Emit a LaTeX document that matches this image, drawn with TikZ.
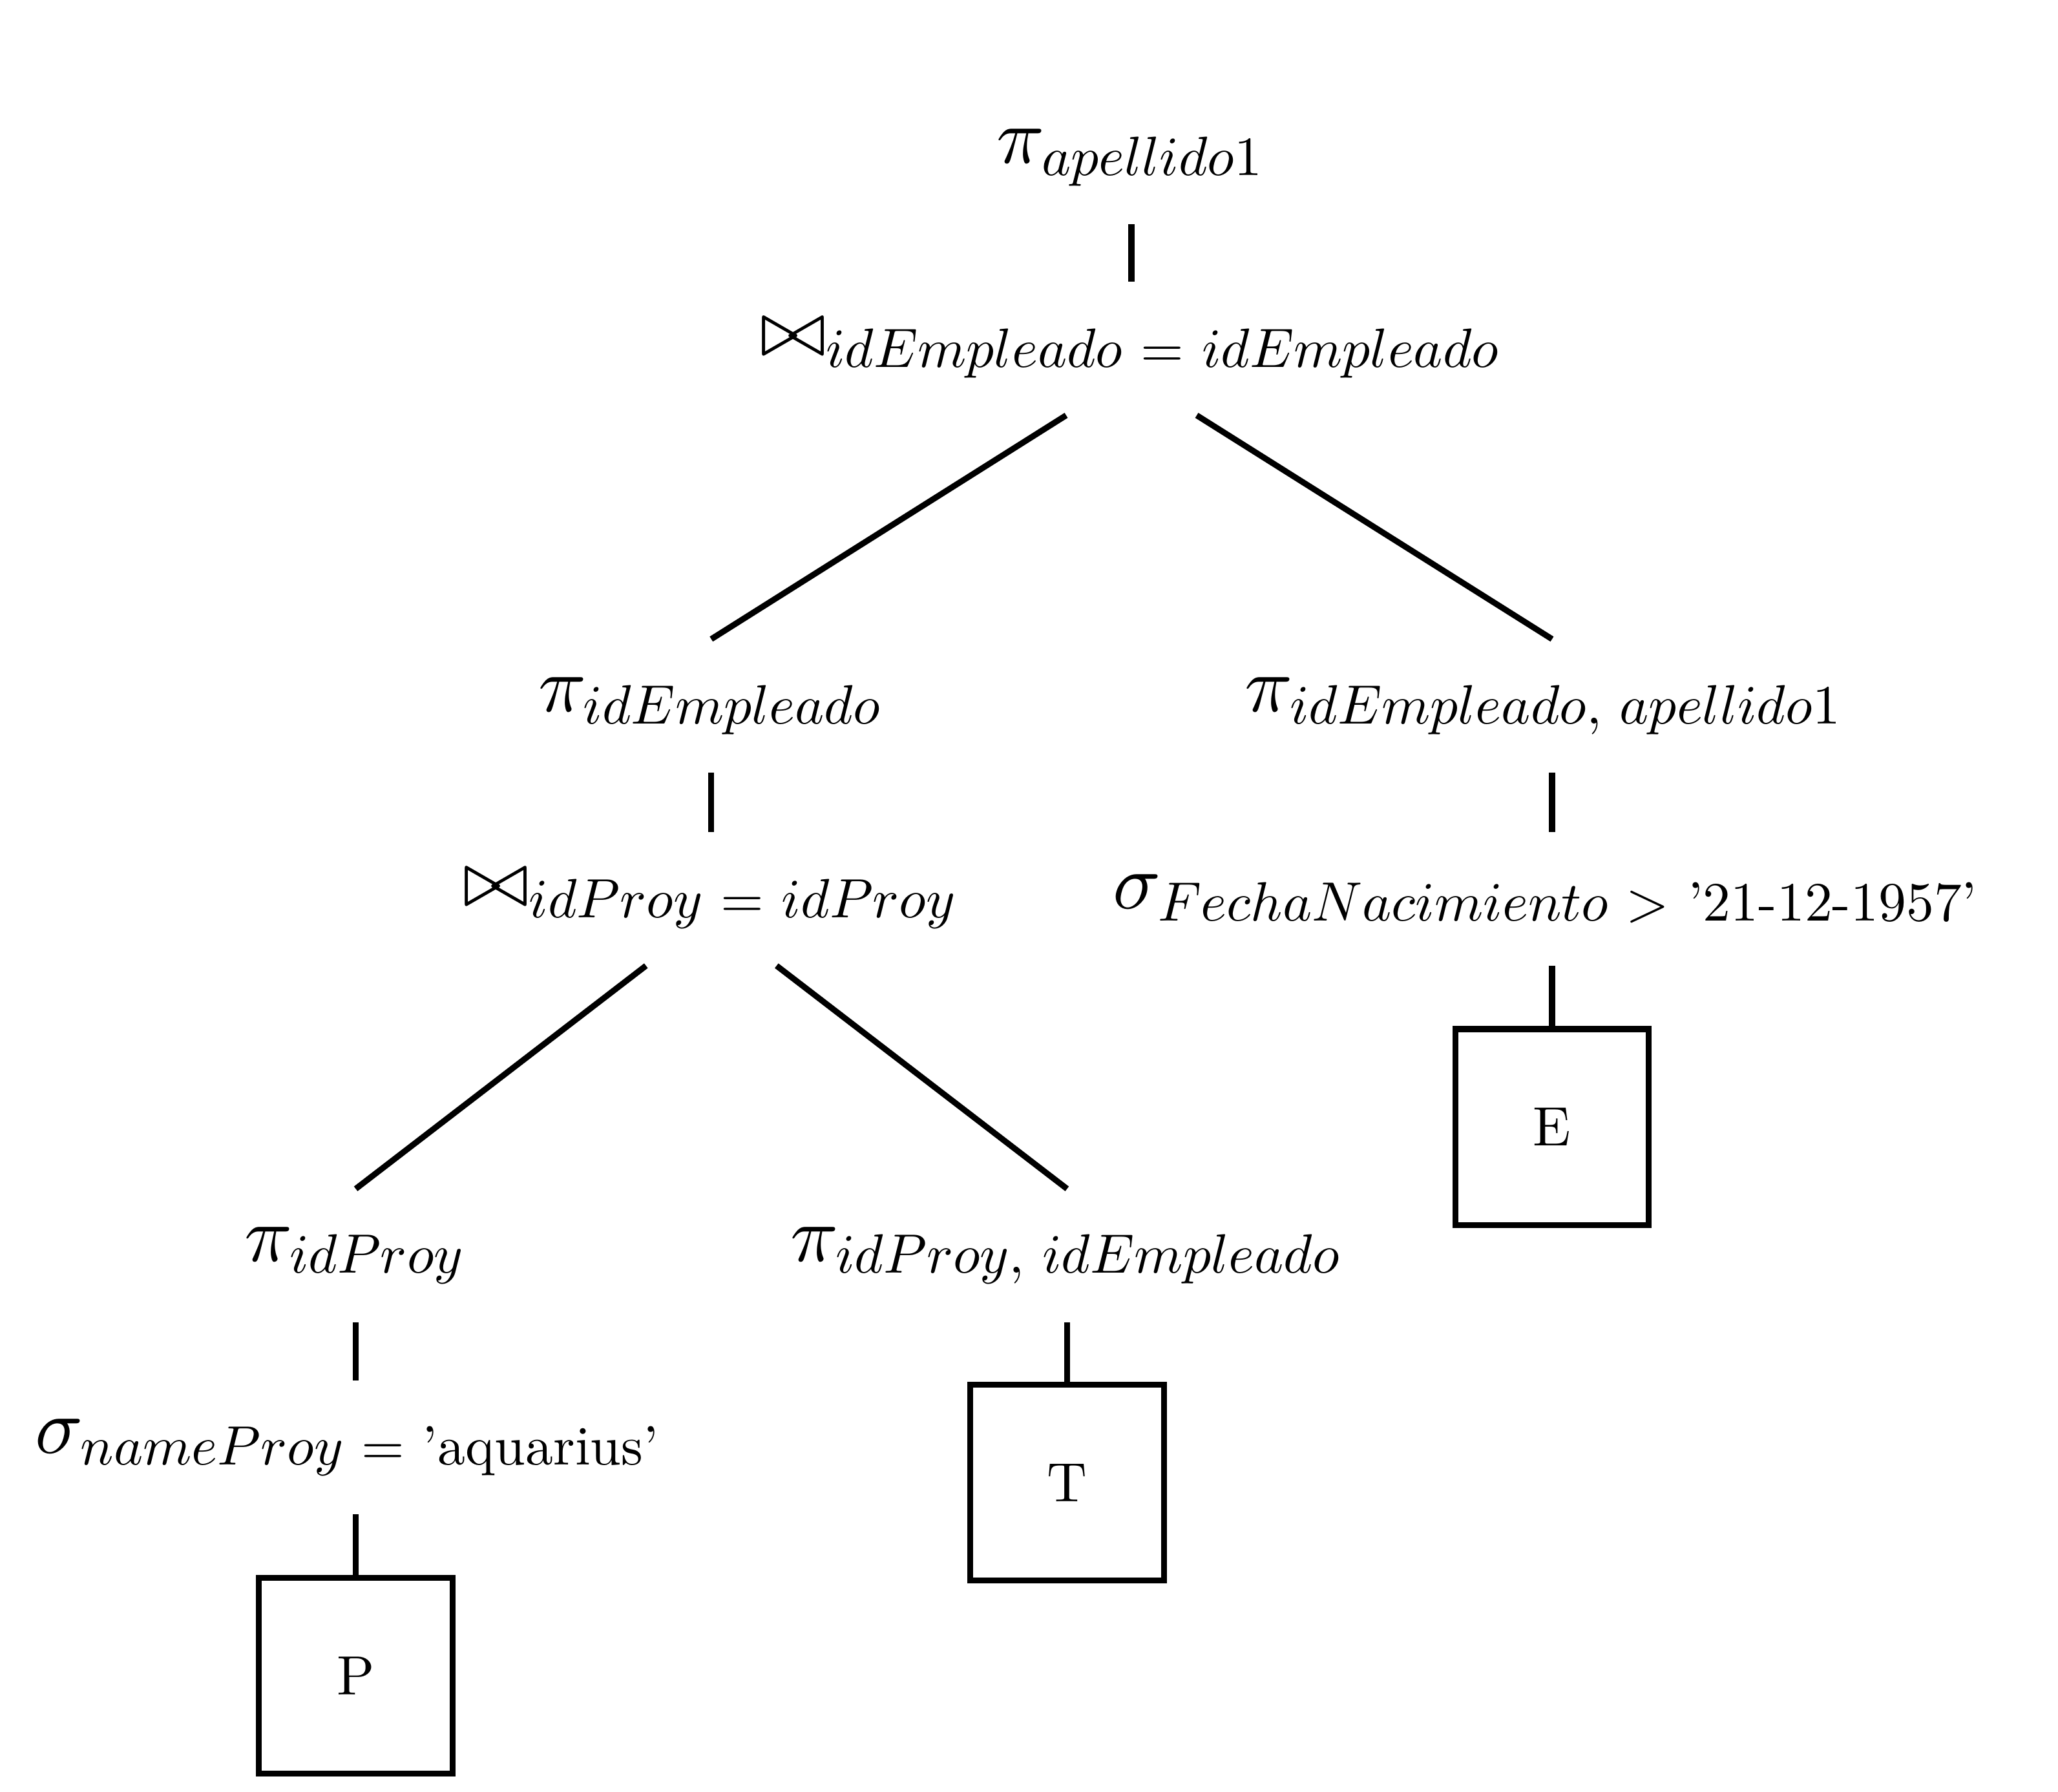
\documentclass[tikz,border=0pt]{standalone}
\usepackage{amsmath,amssymb}
\usepackage[no-math]{fontspec}
\usepackage{tikz}
\usetikzlibrary{positioning}
% scaled (not optical) math fonts in subscripts
\DeclareFontFamily{OML}{cmmx}{\skewchar\font127}
\DeclareFontShape{OML}{cmmx}{m}{it}{<->cmmi10}{}
\DeclareFontFamily{OT1}{cmrx}{\hyphenchar\font45}
\DeclareFontShape{OT1}{cmrx}{m}{n}{<->cmr10}{}
\DeclareSymbolFont{letters}{OML}{cmmx}{m}{it}
\DeclareSymbolFont{operators}{OT1}{cmrx}{m}{n}
\newfontfamily\tenrm{lmroman10-regular.otf}[Ligatures=TeX]
\newcommand{\lit}[1]{\text{\tenrm #1}}
\tikzset{
  op/.style={inner sep=0pt,minimum height=0.58cm},
  rel/.style={draw,line width=0.75pt,minimum width=0.86cm,minimum height=0.87cm,
              inner sep=0pt,font=\scriptsize\tenrm},
  link/.style={line width=0.75pt}
}

\begin{document}
\begin{tikzpicture}
  \useasboundingbox (0,0) rectangle (9.14,-7.96);
  % operators
  \node[op] (root)  at (5.025,-0.70) {$\pi_{apellido1}$};
  \node[op] (joinE) at (5.025,-1.548) {$\bowtie_{idEmpleado\;=\;idEmpleado}$};
  \node[op] (piE)   at (3.159,-3.136) {$\pi_{idEmpleado}$};
  \node[op] (joinP) at (3.159,-3.993) {$\bowtie_{idProy\;=\;idProy}$};
  \node[op] (piP)   at (1.580,-5.578) {$\pi_{idProy}$};
  \node[op] (selP)  at (1.550,-6.43) {$\sigma_{nameProy\;=\;\lit{'aquarius'}}$};
  \node[op] (piT)   at (4.739,-5.578) {$\pi_{idProy,\;idEmpleado}$};
  \node[op] (piEA)  at (6.860,-3.136) {$\pi_{idEmpleado,\;apellido1}$};
  \node[op] (selE)  at (6.870,-3.993) {$\sigma_{FechaNacimiento\;>\;\lit{'21-12-1957'}}$};
  % relations
  \node[rel,anchor=north] (P) at (1.580,-6.995) {P};
  \node[rel,anchor=north] (T) at (4.739,-6.138) {T};
  \node[rel,anchor=north] (E) at (6.893,-4.558) {E};

  \draw[link] (root) -- (joinE);
  \draw[link] ([xshift=-0.29cm]joinE.south) -- (piE.north);
  \draw[link] ([xshift=0.29cm]joinE.south) -- (E.north |- piEA.north);
  \draw[link] (piE) -- (joinP);
  \draw[link] ([xshift=-0.29cm]joinP.south) -- (piP.north);
  \draw[link] ([xshift=0.29cm]joinP.south) -- (piT.north);
  \draw[link] (piP) -- (P.north |- selP.north);
  \draw[link] (P.north |- selP.south) -- (P.north);
  \draw[link] (piT.south) -- (T.north);
  \draw[link] (E.north |- piEA.south) -- (E.north |- selE.north);
  \draw[link] (E.north |- selE.south) -- (E.north);
\end{tikzpicture}
\end{document}
